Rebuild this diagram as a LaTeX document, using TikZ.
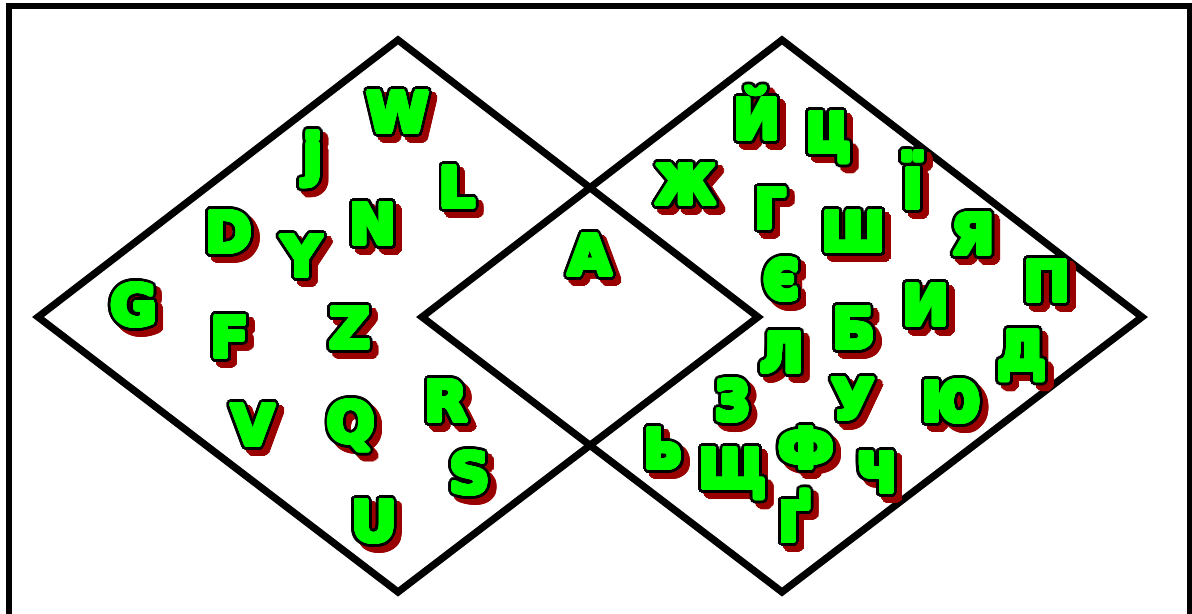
\documentclass[tikz,border=0pt]{standalone}
\usepackage{fontspec}
\setmainfont{DejaVu Sans}
\usepackage{graphicx}
\usepackage{contour}
\definecolor{letgreen}{HTML}{00FF00}
\definecolor{shadowred}{HTML}{990000}
\contournumber{32}
% thickened copy of a text in one colour
\newcommand{\rim}[3]{{\color{#2}\contourlength{#1}\contour{#2}{#3}}}
% green letter with black rim and red drop shadow
\newcommand{\glyphtext}[1]{%
  \rlap{\hspace{3.2pt}\raisebox{-3.2pt}{\rim{2.9pt}{shadowred}{#1}}}%
  \rlap{\rim{2.9pt}{black}{#1}}%
  \rim{1.2pt}{letgreen}{#1}}
\newcommand{\tallglyph}[1]{\glyphtext{\scalebox{1.08}[1.3]{#1}}}

\begin{document}
\begin{tikzpicture}[
  x=0.02cm, y=-0.02cm,
  glyph/.style={font=\fontsize{32}{32}\selectfont\bfseries, inner sep=0pt, text height=23.3pt, text depth=0pt},
  frame/.style={line width=3.4pt},
  rhomb/.style={line width=4.1pt, line join=miter}
]
  \useasboundingbox (0,0) rectangle (1192,613);
  \clip (0,0) rectangle (1192,613);
  \draw[frame] (9,6) rectangle (1189.5,700);

  % the two sets
  \draw[rhomb] (38,317) -- (398,40) -- (758,317) -- (398,592) -- cycle;
  \draw[rhomb] (422,317) -- (782,40) -- (1142,317) -- (782,592) -- cycle;

  % capitals
  \foreach \nm/\px/\py/\txt in {
      latW/398/112/W, latj/313/154/j, latL/457/187/L, latD/229/232/D,
      latY/302/256/Y, latN/373/224/N, latG/134/305/G, latF/230/337/F,
      latZ/350/328/Z, latV/253/425/V, latQ/351/422/Q, latR/446/401/R,
      latS/470/473/S, latU/374/521/U, both/590/255/A,
      cyrYot/757/119/Й, cyrYa/973/234/Я, cyrPe/1047/281/П, cyrI/926/305/И,
      cyrBe/854/328/Б, cyrU/853/399/У, cyrEf/806/448/Ф}
    \node[glyph] (\nm) at (\px,\py) {\glyphtext{\txt}};

  % small letters
  \foreach \nm/\px/\py/\txt in {
      cyrTse/828/132/ц, cyrZhe/686/184/ж, cyrGhe/770/208/г, cyrYi/913/188/ї,
      cyrSha/854/231/ш, cyrYe/782/279/є, cyrDe/1022/350/д, cyrEl/782/352/л,
      cyrZe/733/400/з, cyrYu/951/401/ю, cyrSoft/663/448/ь, cyrShcha/732/468/щ,
      cyrChe/878/472/ч, cyrGheUp/794/521/ґ}
    \node[glyph] (\nm) at (\px,\py) {\tallglyph{\txt}};
\end{tikzpicture}
\end{document}
